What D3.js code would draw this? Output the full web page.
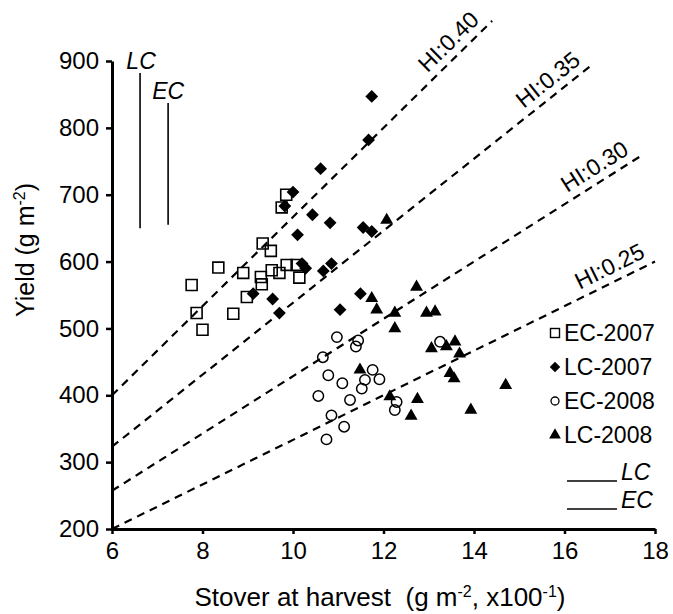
<!DOCTYPE html>
<html>
<head>
<meta charset="utf-8">
<script src="https://cdn.jsdelivr.net/npm/d3@7"></script>
<style>
  html, body { margin: 0; padding: 0; background: #fff; }
  svg text { font-family: "Liberation Sans", Arial, sans-serif; fill: #000; }
</style>
</head>
<body>
<svg id="chart" width="673" height="614"></svg>
<script>
// Stover at harvest (x, g m-2 x100^-1) and grain yield (y, g m-2)
const ec2007 = [[7.76,565],[8.35,591],[7.87,523],[8.00,498],[8.68,522],[8.90,583],[8.98,547],
  [9.29,577],[9.31,566],[9.33,627],[9.51,616],[9.53,587],[9.70,583],[9.86,595],[10.08,595],
  [10.14,576],[9.75,681],[9.85,700]];
const lc2007 = [[9.12,552],[9.55,544],[9.70,523],[9.82,683],[10.00,704],[10.10,640],[10.20,597],
  [10.28,590],[10.43,670],[10.61,739],[10.67,586],[10.82,658],[10.85,597],[11.04,528],[11.49,552],
  [11.55,651],[11.67,782],[11.74,847],[11.74,645]];
const ec2008 = [[10.56,399],[10.66,457],[10.74,334],[10.78,430],[10.85,370],[10.97,487],[11.09,418],
  [11.13,353],[11.26,393],[11.39,473],[11.44,482],[11.52,410],[11.59,423],[11.76,438],[11.91,424],
  [12.25,378],[12.29,390],[13.25,480]];
const lc2008 = [[11.48,438],[11.74,545],[11.85,528],[12.07,662],[12.14,398],[12.25,523],[12.25,500],
  [12.61,369],[12.73,562],[12.75,394],[12.95,523],[13.14,525],[13.06,470],[13.39,473],[13.58,480],
  [13.68,462],[13.47,433],[13.56,425],[13.93,378],[14.70,415]];

// Harvest index reference lines: yield = HI/(1-HI) * stover * 100
const hiValues = [0.40, 0.35, 0.30, 0.25];
const hiLabels = ["HI:0.40", "HI:0.35", "HI:0.30", "HI:0.25"];
const hiEnd = [14.4, 16.65, 17.75, 18.0];      // stover where each line stops
const hiLabelAt = [13.68, 15.85, 16.85, 17.15]; // stover where each label sits

// Vertical bars for LC and EC (stover position, yield bottom, yield top)
const barNames = ["LC", "EC"];
const barX = [6.62, 7.24];
const barLow = [650, 655];
const barHigh = [882, 837];

const xTicks = [6, 8, 10, 12, 14, 16, 18];
const yTicks = [200, 300, 400, 500, 600, 700, 800, 900];
const seriesNames = ["EC-2007", "LC-2007", "EC-2008", "LC-2008"];

const svg = d3.select("#chart");
const x = d3.scaleLinear().domain([6, 18]).range([112, 655]);
const y = d3.scaleLinear().domain([200, 900]).range([529, 61]);

// HI dashed lines
const hiG = svg.append("g");
hiValues.forEach((hi, i) => {
  const k = hi / (1 - hi) * 100;
  hiG.append("line")
    .attr("x1", x(6)).attr("y1", y(k * 6))
    .attr("x2", x(hiEnd[i])).attr("y2", y(k * hiEnd[i]))
    .attr("stroke", "#000").attr("stroke-width", 2.2)
    .attr("stroke-dasharray", "8,6");
  const s = hiLabelAt[i];
  const px = x(s), py = y(k * s);
  const ang = Math.atan2(y(k * (s + 1)) - py, x(s + 1) - px) * 180 / Math.PI;
  hiG.append("text")
    .attr("transform", `translate(${px},${py}) rotate(${ang}) translate(0,-8)`)
    .attr("text-anchor", "middle")
    .attr("font-size", 23)
    .text(hiLabels[i]);
});

// LC / EC bars with italic labels
barNames.forEach((n, i) => {
  svg.append("line")
    .attr("x1", x(barX[i])).attr("x2", x(barX[i]))
    .attr("y1", y(barLow[i])).attr("y2", y(barHigh[i]))
    .attr("stroke", "#000").attr("stroke-width", 1.6);
  svg.append("text")
    .attr("x", x(barX[i]) + (i === 0 ? 1 : 0))
    .attr("y", y(barHigh[i]) - 4)
    .attr("text-anchor", "middle")
    .attr("font-size", 23).attr("font-style", "italic")
    .text(n);
});

// Marker shapes
const sq = d3.symbol().type(d3.symbolSquare).size(120);
const dia = d3.symbol().type(d3.symbolSquare).size(82);
const tri = d3.symbol().type(d3.symbolTriangle).size(72);

function drawSeries(data, kind) {
  const g = svg.append("g");
  data.forEach(d => {
    const cx = x(d[0]), cy = y(d[1]);
    if (kind === "square") {
      g.append("path").attr("d", sq).attr("transform", `translate(${cx},${cy})`)
        .attr("fill", "none").attr("stroke", "#000").attr("stroke-width", 1.6);
    } else if (kind === "diamond") {
      g.append("path").attr("d", dia).attr("transform", `translate(${cx},${cy}) rotate(45)`)
        .attr("fill", "#000");
    } else if (kind === "circle") {
      g.append("circle").attr("cx", cx).attr("cy", cy).attr("r", 5.2)
        .attr("fill", "none").attr("stroke", "#000").attr("stroke-width", 1.5);
    } else {
      g.append("path").attr("d", tri).attr("transform", `translate(${cx},${cy})`)
        .attr("fill", "#000");
    }
  });
}
drawSeries(ec2008, "circle");
drawSeries(ec2007, "square");
drawSeries(lc2007, "diamond");
drawSeries(lc2008, "triangle");

// Axes
const yAxis = d3.axisLeft(y).tickValues(yTicks).tickSize(6).tickSizeOuter(0).tickPadding(7);
const xAxis = d3.axisBottom(x).tickValues(xTicks).tickSize(5).tickSizeOuter(0).tickPadding(8);
const yG = svg.append("g").attr("transform", `translate(${x(6)},0)`).call(yAxis);
const xG = svg.append("g").attr("transform", `translate(0,${y(200)})`).call(xAxis);
[yG, xG].forEach(g => {
  g.select(".domain").attr("stroke", "#000").attr("stroke-width", 3);
  g.selectAll(".tick line").attr("stroke", "#000").attr("stroke-width", 2.5);
  g.selectAll(".tick text").attr("font-size", 24).attr("fill", "#000")
    .attr("font-family", "Liberation Sans, Arial, sans-serif");
});

// Axis titles
const xt = svg.append("text").attr("x", 380).attr("y", 606)
  .attr("text-anchor", "middle").attr("font-size", 26).style("white-space", "pre");
xt.append("tspan").text("Stover at harvest  (g m");
xt.append("tspan").attr("dy", -9).attr("font-size", 16).text("-2");
xt.append("tspan").attr("dy", 9).text(", x100");
xt.append("tspan").attr("dy", -9).attr("font-size", 16).text("-1");
xt.append("tspan").attr("dy", 9).text(")");

const yt = svg.append("text").attr("transform", "translate(34,250) rotate(-90)")
  .attr("text-anchor", "middle").attr("font-size", 25);
yt.append("tspan").text("Yield (g m");
yt.append("tspan").attr("dy", -9).attr("font-size", 16).text("-2");
yt.append("tspan").attr("dy", 9).text(")");

// Legend
const lg = svg.append("g").attr("transform", "translate(555,0)");
const rowY = [333, 367, 401, 435];
const kinds = ["square", "diamond", "circle", "triangle"];
seriesNames.forEach((n, i) => {
  const cy = rowY[i];
  if (kinds[i] === "square") {
    lg.append("rect").attr("x", -4.5).attr("y", cy - 4.5).attr("width", 9).attr("height", 9)
      .attr("fill", "none").attr("stroke", "#000").attr("stroke-width", 1.4);
  } else if (kinds[i] === "diamond") {
    lg.append("path").attr("d", d3.symbol().type(d3.symbolSquare).size(55))
      .attr("transform", `translate(0,${cy}) rotate(45)`).attr("fill", "#000");
  } else if (kinds[i] === "circle") {
    lg.append("circle").attr("cx", 0).attr("cy", cy).attr("r", 4)
      .attr("fill", "none").attr("stroke", "#000").attr("stroke-width", 1.3);
  } else {
    lg.append("path").attr("d", d3.symbol().type(d3.symbolTriangle).size(60))
      .attr("transform", `translate(0,${cy})`).attr("fill", "#000");
  }
  lg.append("text").attr("x", 9).attr("y", cy + 8).attr("font-size", 23).text(n);
});
// LC / EC line keys
const keyY = [481, 509];
barNames.forEach((n, i) => {
  lg.append("line").attr("x1", 12).attr("x2", 62).attr("y1", keyY[i]).attr("y2", keyY[i])
    .attr("stroke", "#000").attr("stroke-width", 1.5);
  lg.append("text").attr("x", 66).attr("y", keyY[i] - 1).attr("font-size", 23)
    .attr("font-style", "italic").text(n);
});
</script>
</body>
</html>
